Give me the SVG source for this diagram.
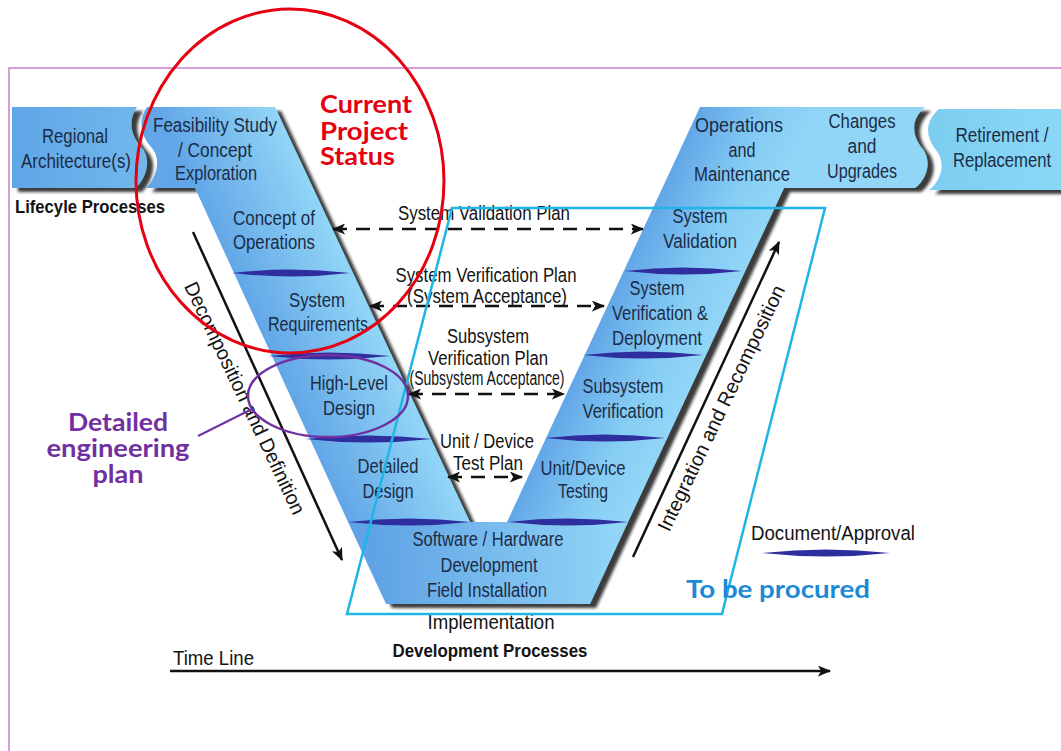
<svg xmlns="http://www.w3.org/2000/svg" width="1061" height="751" viewBox="0 0 1061 751">
  <style>
    .lbl { font-family: "Liberation Sans", Arial, sans-serif; font-size: 20px; fill: #1c2c46; text-anchor: middle; }
    .plan { font-family: "Liberation Sans", Arial, sans-serif; font-size: 20px; fill: #141414; text-anchor: middle; }
    .bold { font-family: "Liberation Sans", Arial, sans-serif; font-size: 18px; font-weight: bold; fill: #141414; }
    .note { font-family: Lato, "Open Sans", sans-serif; font-size: 24px; font-weight: bold; }
    .doc { fill: #2e2e9e; }
    .dash { stroke: #111; stroke-width: 2.5; stroke-dasharray: 14 9; fill: none; marker-start: url(#ah); marker-end: url(#ah); }
    .solid { stroke: #111; stroke-width: 2.5; fill: none; marker-end: url(#ah); }
  </style>
  <defs>
    <marker id="ah" viewBox="0 0 12 10" refX="11" refY="5" markerWidth="14" markerHeight="11" markerUnits="userSpaceOnUse" orient="auto-start-reverse">
      <path d="M0,0 L12,5 L0,10 L3,5 Z" fill="#111"/>
    </marker>
    <filter id="shadow" x="-10%" y="-10%" width="130%" height="130%">
      <feDropShadow dx="6" dy="4" stdDeviation="1.8" flood-color="#151515" flood-opacity="0.85"/>
    </filter>
    <linearGradient id="gLeft" gradientUnits="userSpaceOnUse" x1="269" y1="350" x2="368" y2="304">
      <stop offset="0" stop-color="#62a6e7"/>
      <stop offset="1" stop-color="#92d6f7"/>
    </linearGradient>
    <linearGradient id="gRight" gradientUnits="userSpaceOnUse" x1="587" y1="350" x2="687" y2="397">
      <stop offset="0" stop-color="#62a6e7"/>
      <stop offset="0.6" stop-color="#86cdf4"/>
      <stop offset="1" stop-color="#92d6f7"/>
    </linearGradient>
    <linearGradient id="gBottom" gradientUnits="userSpaceOnUse" x1="370" y1="570" x2="625" y2="560">
      <stop offset="0" stop-color="#5fa2e5"/>
      <stop offset="1" stop-color="#92d6f7"/>
    </linearGradient>
    <linearGradient id="gRegional" x1="0" y1="0" x2="1" y2="0">
      <stop offset="0" stop-color="#60a6e7"/>
      <stop offset="1" stop-color="#70b8ec"/>
    </linearGradient>
    <linearGradient id="gRetire" x1="0" y1="0" x2="1" y2="0">
      <stop offset="0" stop-color="#7ccdf1"/>
      <stop offset="1" stop-color="#8ad8f6"/>
    </linearGradient>
  </defs>

  <rect width="1061" height="751" fill="#ffffff"/>
  <!-- slide frame -->
  <rect x="9" y="68" width="1100" height="760" fill="none" stroke="#cf86cf" stroke-width="1.6"/>

  <!-- process bands -->
  <g id="bands" filter="url(#shadow)">
    <path id="regional-box" d="M12,107 L137,107 C128,120 130,135 142,148 C152,160 146,178 136,188 L12,188 Z" fill="url(#gRegional)"/>
    <path id="left-arm" d="M147,107 L275,107 L470,522 L348,522 L195,188 L146,188 C156,178 162,160 152,148 C140,135 138,120 147,107 Z" fill="url(#gLeft)"/>
    <path id="bottom-band" d="M348,522 L628,522 L590,604 L386,604 Z" fill="url(#gBottom)"/>
    <path id="right-arm" d="M507,522 L628,522 L784,188 L915,188 C928,178 932,160 922,148 C912,135 910,120 925,107 L700,107 Z" fill="url(#gRight)"/>
    <path id="retirement-box" d="M939,109 C924,122 926,137 936,150 C946,162 942,180 929,190 L1061,190 L1061,109 Z" fill="url(#gRetire)"/>
  </g>

  <!-- document / approval marks -->
  <g id="doc-marks">
    <path class="doc" d="M232,273 Q291,266 350,273 Q291,280 232,273 Z"/>
    <path class="doc" d="M268,356 Q329,349 390,356 Q329,363 268,356 Z"/>
    <path class="doc" d="M305,439 Q368,432 432,439 Q368,446 305,439 Z"/>
    <path class="doc" d="M348,522 Q409,515 470,522 Q409,529 348,522 Z"/>
    <path class="doc" d="M625,271 Q683,264 742,271 Q683,278 625,271 Z"/>
    <path class="doc" d="M583,355 Q643,348 703,355 Q643,362 583,355 Z"/>
    <path class="doc" d="M545,438 Q605,431 665,438 Q605,445 545,438 Z"/>
    <path class="doc" d="M507,522 Q567,515 628,522 Q567,529 507,522 Z"/>
  </g>

  <!-- band labels -->
  <g id="regional">
    <text class="lbl" x="75" y="143" textLength="66" lengthAdjust="spacingAndGlyphs">Regional</text>
    <text class="lbl" x="76" y="168" textLength="110" lengthAdjust="spacingAndGlyphs">Architecture(s)</text>
  </g>
  <g id="feasibility">
    <text class="lbl" x="215" y="132" textLength="124" lengthAdjust="spacingAndGlyphs">Feasibility Study</text>
    <text class="lbl" x="215" y="157" textLength="74" lengthAdjust="spacingAndGlyphs">/ Concept</text>
    <text class="lbl" x="216" y="180" textLength="82" lengthAdjust="spacingAndGlyphs">Exploration</text>
  </g>
  <g id="concept-of-operations">
    <text class="lbl" x="274" y="225" textLength="82" lengthAdjust="spacingAndGlyphs">Concept of</text>
    <text class="lbl" x="274" y="249" textLength="82" lengthAdjust="spacingAndGlyphs">Operations</text>
  </g>
  <g id="system-requirements">
    <text class="lbl" x="317" y="307" textLength="56" lengthAdjust="spacingAndGlyphs">System</text>
    <text class="lbl" x="318" y="331" textLength="100" lengthAdjust="spacingAndGlyphs">Requirements</text>
  </g>
  <g id="high-level-design">
    <text class="lbl" x="349" y="390" textLength="78" lengthAdjust="spacingAndGlyphs">High-Level</text>
    <text class="lbl" x="349" y="415" textLength="52" lengthAdjust="spacingAndGlyphs">Design</text>
  </g>
  <g id="detailed-design">
    <text class="lbl" x="388" y="473" textLength="61" lengthAdjust="spacingAndGlyphs">Detailed</text>
    <text class="lbl" x="388" y="498" textLength="51" lengthAdjust="spacingAndGlyphs">Design</text>
  </g>
  <g id="implementation-band">
    <text class="lbl" x="488" y="546" textLength="151" lengthAdjust="spacingAndGlyphs">Software / Hardware</text>
    <text class="lbl" x="489" y="572" textLength="97" lengthAdjust="spacingAndGlyphs">Development</text>
    <text class="lbl" x="487" y="597" textLength="120" lengthAdjust="spacingAndGlyphs">Field Installation</text>
  </g>
  <g id="unit-testing">
    <text class="lbl" x="583" y="475" textLength="85" lengthAdjust="spacingAndGlyphs">Unit/Device</text>
    <text class="lbl" x="583" y="498" textLength="50" lengthAdjust="spacingAndGlyphs">Testing</text>
  </g>
  <g id="subsystem-verification">
    <text class="lbl" x="623" y="393" textLength="81" lengthAdjust="spacingAndGlyphs">Subsystem</text>
    <text class="lbl" x="623" y="418" textLength="81" lengthAdjust="spacingAndGlyphs">Verification</text>
  </g>
  <g id="system-verification">
    <text class="lbl" x="657" y="295" textLength="55" lengthAdjust="spacingAndGlyphs">System</text>
    <text class="lbl" x="660" y="320" textLength="96" lengthAdjust="spacingAndGlyphs">Verification &amp;</text>
    <text class="lbl" x="657" y="345" textLength="90" lengthAdjust="spacingAndGlyphs">Deployment</text>
  </g>
  <g id="system-validation">
    <text class="lbl" x="700" y="223" textLength="55" lengthAdjust="spacingAndGlyphs">System</text>
    <text class="lbl" x="700" y="248" textLength="74" lengthAdjust="spacingAndGlyphs">Validation</text>
  </g>
  <g id="operations">
    <text class="lbl" x="739" y="132" textLength="88" lengthAdjust="spacingAndGlyphs">Operations</text>
    <text class="lbl" x="742" y="157" textLength="27" lengthAdjust="spacingAndGlyphs">and</text>
    <text class="lbl" x="742" y="181" textLength="96" lengthAdjust="spacingAndGlyphs">Maintenance</text>
  </g>
  <g id="changes">
    <text class="lbl" x="862" y="128" textLength="67" lengthAdjust="spacingAndGlyphs">Changes</text>
    <text class="lbl" x="862" y="153" textLength="29" lengthAdjust="spacingAndGlyphs">and</text>
    <text class="lbl" x="862" y="178" textLength="70" lengthAdjust="spacingAndGlyphs">Upgrades</text>
  </g>
  <g id="retirement">
    <text class="lbl" x="1002" y="142" textLength="93" lengthAdjust="spacingAndGlyphs">Retirement /</text>
    <text class="lbl" x="1002" y="167" textLength="98" lengthAdjust="spacingAndGlyphs">Replacement</text>
  </g>

  <!-- plans linking both arms -->
  <g id="connectors">
    <line class="dash" x1="333" y1="229" x2="643" y2="229"/>
    <line class="dash" x1="370" y1="306" x2="604" y2="306"/>
    <line class="dash" x1="409" y1="394" x2="564" y2="394"/>
    <line class="dash" x1="448" y1="477" x2="522" y2="477" stroke-dasharray="10 7"/>
    <line class="solid" x1="193" y1="232" x2="342" y2="560"/>
    <line class="solid" x1="633" y1="557" x2="779" y2="242"/>
    <line class="solid" x1="170" y1="671" x2="830" y2="671" stroke="#222"/>
  </g>
  <g id="plan-labels">
    <text class="plan" x="484" y="220" textLength="172" lengthAdjust="spacingAndGlyphs">System Validation Plan</text>
    <text class="plan" x="486" y="282" textLength="181" lengthAdjust="spacingAndGlyphs">System Verification Plan</text>
    <text class="plan" x="487" y="303" textLength="160" lengthAdjust="spacingAndGlyphs">(System Acceptance)</text>
    <text class="plan" x="488" y="343" textLength="82" lengthAdjust="spacingAndGlyphs">Subsystem</text>
    <text class="plan" x="488" y="365" textLength="120" lengthAdjust="spacingAndGlyphs">Verification Plan</text>
    <text class="plan" x="487" y="385" font-size="16" textLength="155" lengthAdjust="spacingAndGlyphs">(Subsystem Acceptance)</text>
    <text class="plan" x="487" y="448" textLength="94" lengthAdjust="spacingAndGlyphs">Unit / Device</text>
    <text class="plan" x="488" y="470" textLength="70" lengthAdjust="spacingAndGlyphs">Test Plan</text>
    <text class="plan" transform="translate(245,398) rotate(64.5)" x="0" y="7" textLength="255" lengthAdjust="spacingAndGlyphs">Decomposition and Definition</text>
    <text class="plan" transform="translate(721,408) rotate(-64.5)" x="0" y="7" textLength="270" lengthAdjust="spacingAndGlyphs">Integration and Recomposition</text>
  </g>

  <!-- legend and captions -->
  <g id="legend">
    <text class="plan" x="751" y="540" style="text-anchor:start" textLength="164" lengthAdjust="spacingAndGlyphs">Document/Approval</text>
    <path class="doc" d="M762,553 Q826,546 890,553 Q826,560 762,553 Z"/>
  </g>
  <g id="captions">
    <text class="bold" x="15" y="213" textLength="150" lengthAdjust="spacingAndGlyphs">Lifecyle Processes</text>
    <text class="plan" x="491" y="629" textLength="127" lengthAdjust="spacingAndGlyphs">Implementation</text>
    <text class="bold" x="490" y="657" text-anchor="middle" textLength="195" lengthAdjust="spacingAndGlyphs">Development Processes</text>
    <text class="plan" x="173" y="665" style="text-anchor:start" textLength="81" lengthAdjust="spacingAndGlyphs">Time Line</text>
  </g>

  <!-- status annotations -->
  <g id="procured">
    <path d="M452,208 L825,208 L722,614 L347,614 Z" fill="none" stroke="#1db6e6" stroke-width="2.5"/>
    <text class="note" x="686" y="598" fill="#1c8ad6" textLength="184" lengthAdjust="spacingAndGlyphs">To be procured</text>
  </g>
  <g id="current-status">
    <ellipse cx="290" cy="181" rx="154" ry="172" fill="none" stroke="#e60012" stroke-width="3"/>
    <text class="note" x="320" y="113" fill="#e60012" textLength="92" lengthAdjust="spacingAndGlyphs">Current</text>
    <text class="note" x="320" y="140" fill="#e60012" textLength="88" lengthAdjust="spacingAndGlyphs">Project</text>
    <text class="note" x="320" y="165" fill="#e60012" textLength="75" lengthAdjust="spacingAndGlyphs">Status</text>
  </g>
  <g id="engineering-plan">
    <ellipse cx="328" cy="396" rx="80" ry="41" fill="none" stroke="#7030a0" stroke-width="2.5"/>
    <line x1="198" y1="436" x2="252" y2="409" stroke="#7030a0" stroke-width="2"/>
    <text class="note" x="118" y="431" fill="#7030a0" text-anchor="middle" textLength="100" lengthAdjust="spacingAndGlyphs">Detailed</text>
    <text class="note" x="118" y="457" fill="#7030a0" text-anchor="middle" textLength="143" lengthAdjust="spacingAndGlyphs">engineering</text>
    <text class="note" x="118" y="483" fill="#7030a0" text-anchor="middle" textLength="51" lengthAdjust="spacingAndGlyphs">plan</text>
  </g>
</svg>
